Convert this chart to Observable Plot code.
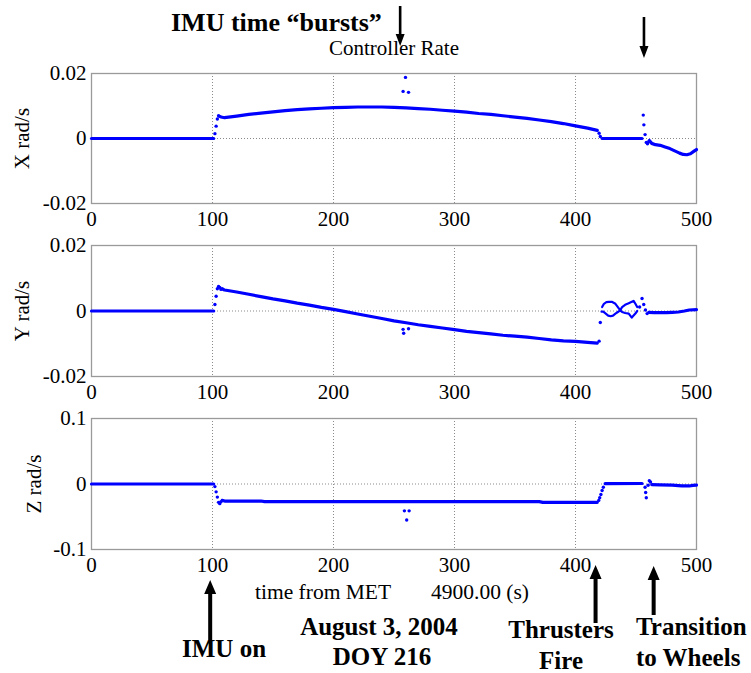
<!DOCTYPE html>
<html><head><meta charset="utf-8">
<script src="https://cdn.jsdelivr.net/npm/d3@7"></script>
<script src="https://cdn.jsdelivr.net/npm/@observablehq/plot@0.6"></script>
<style>
body{margin:0;background:#fff;}
#root{position:relative;width:751px;height:673px;overflow:hidden;background:#fff;}
.panel{position:absolute;left:0;}
</style></head><body><div id="root"></div>
<script>
// ---------- data (time s, rate rad/s) ----------
const xTicks = [0, 100, 200, 300, 400, 500];
const xGrid = [100, 200, 300, 400];
const ticksXY = [-0.02, 0, 0.02];
const ticksZ = [-0.1, 0, 0.1];

// X rate
const xSegA = [[0,0],[101,0]];
const xSegB = [[107,0.0066],[110,0.0064],[120,0.0069],[130,0.0074],[140,0.0078],[150,0.0082],[160,0.0086],[170,0.0089],[180,0.0091],[190,0.0093],[200,0.0095],[210,0.0096],[220,0.0097],[230,0.0097],[240,0.0097],[250,0.0096],[260,0.0094],[270,0.0092],[280,0.009],[290,0.0087],[300,0.0084],[310,0.0081],[320,0.0077],[330,0.0074],[340,0.007],[350,0.0066],[360,0.0062],[370,0.0057],[380,0.0052],[390,0.0046],[400,0.0039],[410,0.0032],[418,0.0025]];
const xSegC = [[422,0],[455,0]];
const xSegD = [[461,-0.0006],[463,-0.0015],[466,-0.0019],[470,-0.0021],[474,-0.0026],[478,-0.0031],[482,-0.0038],[486,-0.0045],[489,-0.0049],[492,-0.005],[495,-0.0047],[498,-0.0039],[500,-0.0034]];
const xDots = [[102,0.0015],[103,0.0038],[104,0.006],[105,0.007],[106,0.0068],[419.5,0.0016],[420.5,0.0006],[257.5,0.0145],[259.5,0.0188],[262,0.0142],[456,0.0072],[456.5,0.0042],[457.5,0.0012],[458.5,-0.0012],[459.5,-0.0016],[460.5,-0.001]];

// Y rate
const ySegA = [[0,0],[101,0]];
const ySegB = [[108,0.0068],[110,0.0064],[120,0.0058],[130,0.0051],[140,0.0044],[150,0.0037],[160,0.0031],[170,0.0024],[180,0.0018],[190,0.0011],[200,0.0005],[210,-0.0002],[220,-0.0009],[230,-0.0016],[240,-0.0023],[250,-0.003],[260,-0.0036],[270,-0.0042],[280,-0.0047],[290,-0.0052],[300,-0.0057],[310,-0.0062],[320,-0.0066],[330,-0.007],[340,-0.0074],[350,-0.0077],[360,-0.008],[370,-0.0084],[380,-0.0088],[390,-0.0091],[400,-0.0093],[410,-0.0096],[418,-0.0098]];
const yUpper = [[422,0.0012],[423.5,0.0022],[425.5,0.0027],[427.5,0.0028],[430,0.0028],[433,0.0022],[435,0.0012],[437,0.0002],[438.5,0.0012],[441,0.0019],[444,0.0024],[446.5,0.0028],[448,0.0031],[449.5,0.0022],[451,0.0012]];
const yLower = [[421.5,-0.0002],[423,-0.0002],[425,-0.0008],[427,-0.0014],[429,-0.0016],[431,-0.0014],[433,-0.0008],[435,-0.0003],[437,0.0002],[438.5,-0.0003],[441,-0.0006],[444,-0.0008],[446.5,-0.002],[449.5,-0.0008],[451,0]];
const ySegD = [[460.5,-0.0004],[465,-0.0005],[470,-0.0005],[475,-0.0005],[480,-0.0004],[485,-0.0003],[490,0],[494,0.0003],[500,0.0004]];
const yDots = [[102,0.002],[103,0.0045],[104,0.0068],[105,0.0075],[106,0.0072],[107,0.0066],[257.5,-0.0056],[258,-0.0068],[262,-0.0054],[419.5,-0.0092],[420.5,-0.0035],[453,0.0012],[455,0.0038],[456.4,0.002],[457.8,0.0003],[459.2,-0.0008]];

// Z rate
const zSegA = [[0,0],[101,0]];
const zSegB = [[108,-0.025],[110,-0.026],[140,-0.026],[143,-0.027],[370,-0.027],[373,-0.028],[418,-0.028]];
const zSegC = [[424.5,0.0005],[455,0.0008]];
const zSegD = [[463,-0.001],[470,-0.0013],[480,-0.0018],[485,-0.0025],[488,-0.003],[494,-0.003],[497,-0.002],[500,-0.0016]];
const zDots = [[102,-0.004],[103,-0.012],[104,-0.02],[105,-0.028],[106,-0.03],[107,-0.027],[258.6,-0.041],[260.5,-0.055],[262.5,-0.041],[419.2,-0.025],[420,-0.021],[421,-0.016],[422,-0.01],[423,-0.005],[457.5,-0.005],[458,-0.013],[458.5,-0.021],[460,-0.002],[461,0.005],[462,0.003]];

// annotation event times
const burstArrowT = [255.5, 457];
const eventArrowT = [98.5, 417, 465];

// ---------- drawing ----------
const root = document.getElementById("root");
const FONT = "'Liberation Serif','Times New Roman',serif";
const BLUE = "#0000ff";

function panel({top, height, mTop, mBottom, yDomain, yTicks, label, labelOffset, segs, thin, dots}) {
  const lineData = segs.flatMap((s, i) => s.map(([t, v]) => ({t, v, seg: i})));
  const thinData = (thin || []).flatMap((s, i) => s.map(([t, v]) => ({t, v, seg: i})));
  const dotData = dots.map(([t, v]) => ({t, v}));
  const p = Plot.plot({
    width: 751, height,
    marginLeft: 91, marginRight: 55, marginTop: mTop, marginBottom: mBottom,
    style: {fontFamily: FONT, fontSize: "21px", color: "#000", background: "transparent", overflow: "visible"},
    x: {domain: [0, 500], label: null},
    y: {domain: yDomain, label: null},
    marks: [
      Plot.gridX(xGrid, {stroke: "#8a8a8a", strokeOpacity: 1, strokeDasharray: "1,2"}),
      Plot.ruleY([0], {stroke: "#8a8a8a", strokeDasharray: "1,2"}),
      Plot.frame({stroke: "#9a9a9a", strokeWidth: 1.3}),
      Plot.axisX(xTicks, {tickSize: 0, tickPadding: 8, tickFormat: d => String(d), label: null}),
      Plot.axisY(yTicks, {tickSize: 0, tickPadding: 5, tickFormat: d => String(d),
        label, labelAnchor: "center", labelOffset, labelArrow: false}),
      Plot.line(lineData, {x: "t", y: "v", z: "seg", stroke: BLUE, strokeWidth: 3.2}),
      Plot.line(thinData, {x: "t", y: "v", z: "seg", stroke: BLUE, strokeWidth: 2.2}),
      Plot.dot(dotData, {x: "t", y: "v", r: 1.7, fill: BLUE, stroke: "none"})
    ]
  });
  const div = document.createElement("div");
  div.className = "panel";
  div.style.top = top + "px";
  div.appendChild(p);
  root.appendChild(div);
  return p;
}

const p1 = panel({top: 0, height: 240, mTop: 73, mBottom: 37, yDomain: [-0.02, 0.02], yTicks: ticksXY,
  label: "X rad/s", labelOffset: 77, segs: [xSegA, xSegB, xSegC, xSegD], dots: xDots});
const p2 = panel({top: 240, height: 172, mTop: 5, mBottom: 36, yDomain: [-0.02, 0.02], yTicks: ticksXY,
  label: "Y rad/s", labelOffset: 77, segs: [ySegA, ySegB, ySegD], thin: [yUpper, yLower], dots: yDots});
const p3 = panel({top: 412, height: 180, mTop: 6, mBottom: 43, yDomain: [-0.1, 0.1], yTicks: ticksZ,
  label: "Z rad/s", labelOffset: 65, segs: [zSegA, zSegB, zSegC, zSegD], dots: zDots});

// overlay with titles and annotations
const sx = p3.scale("x");
const X = t => sx.apply(t);
const svg = d3.select(root).append("svg")
  .attr("width", 751).attr("height", 673)
  .style("position", "absolute").style("left", "0px").style("top", "0px")
  .style("font-family", FONT);

function arrow(x, yTail, yTip, shaft, headW, headH) {
  const dir = yTip > yTail ? 1 : -1;
  const yb = yTip - dir * headH;
  svg.append("path")
    .attr("d", `M${x - shaft / 2},${yTail}L${x + shaft / 2},${yTail}L${x + shaft / 2},${yb}L${x + headW / 2},${yb}L${x},${yTip}L${x - headW / 2},${yb}L${x - shaft / 2},${yb}Z`)
    .attr("fill", "#000");
}
// downward "burst" arrows
arrow(X(burstArrowT[0]), 6, 46, 2.6, 9, 12);
arrow(X(burstArrowT[1]), 17, 58, 2.6, 9, 12);
// upward event arrows
arrow(X(eventArrowT[0]), 640, 580, 4, 12, 14);
arrow(X(eventArrowT[1]), 623, 565, 4, 12, 14);
arrow(X(eventArrowT[2]), 615, 566, 4, 12, 14);

function text(str, x, y, size, weight, anchor) {
  svg.append("text").attr("x", x).attr("y", y)
    .attr("font-size", size).attr("font-weight", weight || "normal")
    .attr("text-anchor", anchor || "start").attr("fill", "#000")
    .style("white-space", "pre").text(str);
}
text("Controller Rate", 394, 55, 21, "normal", "middle");
text("time from MET", 255, 599, 21.5);
text("4900.00 (s)", 431, 599, 21.5);
text("IMU time \u201cbursts\u201d", 171, 31, 26, "bold");
text("IMU on", 182, 657, 25, "bold");
text("August 3, 2004", 379, 635, 25, "bold", "middle");
text("DOY 216", 382, 665, 25, "bold", "middle");
text("Thrusters", 561, 638, 25, "bold", "middle");
text("Fire", 561, 669, 25, "bold", "middle");
text("Transition", 636, 635, 25, "bold");
text("to Wheels", 636, 666, 25, "bold");
</script></body></html>
